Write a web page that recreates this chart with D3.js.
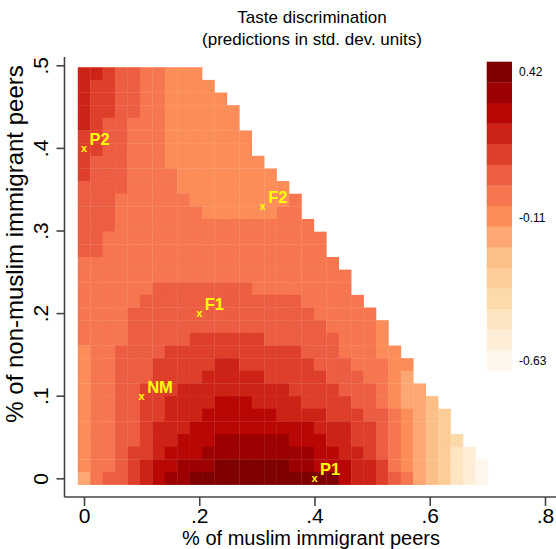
<!DOCTYPE html>
<html><head><meta charset="utf-8">
<script src="https://cdn.jsdelivr.net/npm/d3@7/dist/d3.min.js"></script>
<style>body{margin:0;background:#fff}svg{display:block}text{font-family:"Liberation Sans",Arial,Helvetica,sans-serif}</style>
</head><body><svg id="chart" width="556" height="549"></svg>
<script>
// grid coordinates (share of muslim / non-muslim immigrant peers)
const xValues = [0,.0216,.0431,.0647,.0863,.1078,.1294,.1509,.1725,.1941,.2156,.2372,.2588,.2803,.3019,.3234,.345,.3666,.3881,.4097,.4313,.4528,.4744,.4959,.5175,.5391,.5606,.5822,.6038,.6253,.6469,.6684,.69];
const yValues = [0,.0153,.0306,.0459,.0613,.0766,.0919,.1072,.1225,.1378,.1531,.1684,.1838,.1991,.2144,.2297,.245,.2603,.2756,.2909,.3063,.3216,.3369,.3522,.3675,.3828,.3981,.4134,.4288,.4441,.4594,.4747,.49];
// colour class (1 = lowest .. 15 = highest) of every cell, one string per row, top row (y = .49) first
const levelRows = [
"ccbaa99888",
"cbbaa998888",
"cbbaa9988888",
"cbbaa99888888",
"cbaa999888888",
"bbaa9998888888",
"bbaa9998888888",
"baaa99988888888",
"baaa999988888888",
"aaaa9999888888888",
"aaa999999888888889",
"aaa999999988888899",
"aaa9999999999999999",
"aa999999999999999999",
"aa999999999999999999",
"999999999999999999999",
"9999999999999999999999",
"999999aaaaaaaa99999999",
"99999aaaaaaaaaaaaa99999",
"9999aaaaaaaaaaaaaaa99999",
"9999aaaaaaaaaaaaaaaa99998",
"9999aaaaabbbbbbaaaaaa9998",
"899aaaabbbbbbbbbbbaaa99988",
"899aaabbbbbccbbbbbbaaa99988",
"899aaabbbbcccccbbbbbaaa9987",
"899aabbbcccccccccbbbbaaa9877",
"899aabbccccdddccccbbbbaa98776",
"899aabbcccddddddccccbbbaa98765",
"899aabcccddddddddddcccbba98765",
"899aabccdddeeeeeedddccbba987654",
"899abbcdddeeeeeeeeeddccba9876532",
"899abcddeeeffffffeedddccb98765321",
"79aabcdeeffffffffffffdccba9765321"
];
const legendValues = [-0.63,-0.555,-0.48,-0.405,-0.33,-0.255,-0.18,-0.105,-0.03,0.045,0.12,0.195,0.27,0.345,0.42];
const legendTickValues = [0.42,-0.11,-0.63];
const legendTickLabels = ["0.42","-0.11","-0.63"];
const xTicks = [0,.2,.4,.6,.8];
const xTickLabels = ["0",".2",".4",".6",".8"];
const yTicks = [0,.1,.2,.3,.4,.5];
const yTickLabels = ["0",".1",".2",".3",".4",".5"];
const pointNames = ["P2","F2","F1","NM","P1"];
const pointX = [0,.31,.2,.1,.4];
const pointY = [.4,.33,.2,.1,0];
const orRd = ["#fff7ec","#fee8c8","#fdd49e","#fdbb84","#fc8d59","#ef6548","#d7301f","#b30000","#7f0000"];

const svg = d3.select("#chart");
const x = d3.scaleLinear().domain([0,.8]).range([84,545]);
const y = d3.scaleLinear().domain([0,.5]).range([478.3,65.3]);
const color = d3.scaleLinear().domain(d3.range(9).map(i=>1+i*14/8)).range(orRd).interpolate(d3.interpolateRgb);

function edges(v){
  const e=[];
  for(let i=0;i<=v.length;i++){
    if(i===0) e.push(v[0]-(v[1]-v[0])/2);
    else if(i===v.length) e.push(v[i-1]+(v[i-1]-v[i-2])/2);
    else e.push((v[i-1]+v[i])/2);
  }
  return e;
}
const xe = edges(xValues), ye = edges(yValues);
const cells = [];
levelRows.forEach((row,k)=>{
  const r = levelRows.length-1-k;
  row.split("").forEach((ch,c)=>cells.push({c,r,level:parseInt(ch,16)}));
});
svg.append("g").selectAll("rect").data(cells).join("rect")
  .attr("x",d=>x(xe[d.c])).attr("width",d=>x(xe[d.c+1])-x(xe[d.c])+0.3)
  .attr("y",d=>y(ye[d.r+1])).attr("height",d=>y(ye[d.r])-y(ye[d.r+1])+0.3)
  .attr("fill",d=>color(d.level));

// axes
const axisCol="#444";
const xAxis = svg.append("g").attr("transform","translate(0,497)")
  .call(d3.axisBottom(x).tickValues(xTicks).tickFormat((d,i)=>xTickLabels[i]).tickSize(9).tickPadding(2));
xAxis.select(".domain").attr("d","M64.5,0H556").attr("stroke",axisCol).attr("stroke-width",1.6);
xAxis.selectAll(".tick line").attr("stroke",axisCol).attr("stroke-width",1.6);
xAxis.selectAll(".tick text").attr("font-size",21).attr("fill","#000").attr("font-family","Liberation Sans, Arial, sans-serif");

const yAxis = svg.append("g").attr("transform","translate(64.5,0)")
  .call(d3.axisLeft(y).tickValues(yTicks).tickFormat((d,i)=>yTickLabels[i]).tickSize(8).tickPadding(4));
yAxis.select(".domain").attr("d","M0,57V497").attr("stroke",axisCol).attr("stroke-width",1.6);
yAxis.selectAll(".tick line").attr("stroke",axisCol).attr("stroke-width",1.6);
yAxis.selectAll(".tick text").attr("font-size",21).attr("fill","#000")
  .attr("font-family","Liberation Sans, Arial, sans-serif")
  .attr("x",0).attr("dy",null).attr("text-anchor","middle")
  .attr("transform","translate(-24,0) rotate(-90)").attr("y",0)
  .attr("dominant-baseline","central");

// titles
svg.append("text").attr("x",312).attr("y",23).attr("text-anchor","middle").attr("font-size",17).text("Taste discrimination");
svg.append("text").attr("x",312).attr("y",45).attr("text-anchor","middle").attr("font-size",17).text("(predictions in std. dev. units)");
svg.append("text").attr("x",311).attr("y",545).attr("text-anchor","middle").attr("font-size",20).text("% of muslim immigrant peers");
svg.append("text").attr("transform","translate(23,244) rotate(-90)").attr("text-anchor","middle").attr("font-size",24).text("% of non-muslim immigrant peers");

// legend
const lg = d3.scaleBand().domain(d3.range(15).map(i=>14-i)).range([61.7,370.7]);
svg.append("g").selectAll("rect").data(legendValues).join("rect")
  .attr("x",486.7).attr("width",25.3)
  .attr("y",(d,i)=>lg(i)).attr("height",lg.bandwidth()+0.3)
  .attr("fill",(d,i)=>color(i+1));
const lv = d3.scaleLinear().domain([-0.63,0.42]).range([lg(0)+lg.bandwidth()/2, lg(14)+lg.bandwidth()/2]);
svg.append("g").selectAll("text").data(legendTickValues).join("text")
  .attr("x",519).attr("y",d=>lv(d)).attr("dy","0.35em").attr("font-size",12).text((d,i)=>legendTickLabels[i]);

// marked points
const pg = svg.append("g");
pointNames.forEach((n,i)=>{
  pg.append("text").attr("x",x(pointX[i])).attr("y",y(pointY[i])+4).attr("text-anchor","middle")
    .attr("font-size",11).attr("font-weight","bold").attr("fill","#ffff00").text("x");
  pg.append("text").attr("x",x(pointX[i])+5.5).attr("y",y(pointY[i])-3).attr("font-size",16.5)
    .attr("font-weight","bold").attr("fill","#ffff00").text(n);
});
</script></body></html>
